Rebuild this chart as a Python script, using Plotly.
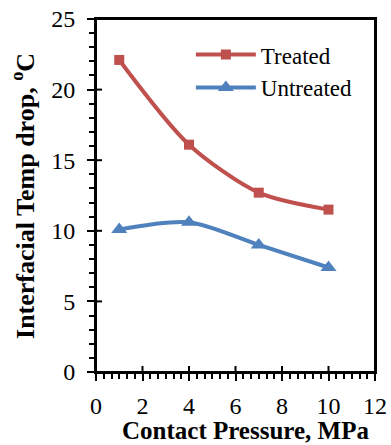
import plotly.graph_objects as go

# Contact pressure (MPa) and interfacial temperature drop (°C)
pressure = [1, 4, 7, 10]
treated = [22.1, 16.1, 12.7, 11.5]
untreated = [10.1, 10.6, 9.0, 7.4]

x_ticks = [0, 2, 4, 6, 8, 10, 12]
y_ticks = [0, 5, 10, 15, 20, 25]

RED = "#C0504D"
BLUE = "#4F81BD"
FONT = "Liberation Serif"

fig = go.Figure()
fig.add_trace(go.Scatter(
    x=pressure, y=treated, name="Treated", mode="lines+markers",
    line=dict(color=RED, width=4, shape="spline", smoothing=0.8),
    marker=dict(symbol="square", size=10, color=RED),
))
fig.add_trace(go.Scatter(
    x=pressure, y=untreated, name="Untreated", mode="lines+markers",
    line=dict(color=BLUE, width=4, shape="spline", smoothing=0.8),
    marker=dict(symbol="triangle-up", size=14, color=BLUE),
))

axis_common = dict(
    showgrid=False, zeroline=False, showline=True, linecolor="black",
    linewidth=2, mirror=True, ticks="outside", ticklen=7, tickwidth=2,
    tickcolor="black", tickfont=dict(family=FONT, size=24, color="black"),
    automargin=False,
)

fig.update_layout(
    width=391, height=445,
    margin=dict(l=96, r=16, t=19, b=73),
    paper_bgcolor="white", plot_bgcolor="white",
    font=dict(family=FONT, color="black"),
    xaxis=dict(
        **axis_common, range=[0, 12], tickvals=x_ticks,
        ticklabelstandoff=4,
        minor=dict(dtick=1 / 3, ticks="outside", ticklen=5, tickwidth=2,
                   tickcolor="black"),
    ),
    yaxis=dict(
        **axis_common, range=[0, 25], tickvals=y_ticks,
        ticklabelstandoff=7,
        minor=dict(dtick=1, ticks="outside", ticklen=5, tickwidth=2,
                   tickcolor="black"),
    ),
    legend=dict(x=0.34, y=0.96, xanchor="left", yanchor="top",
                bgcolor="rgba(0,0,0,0)", font=dict(family=FONT, size=23),
                itemwidth=60, tracegroupgap=0),
    showlegend=True,
)

# axis titles
fig.add_annotation(text="<b>Contact Pressure, MPa</b>", xref="paper",
                   yref="paper", x=0.535, y=-0.165, xanchor="center",
                   yanchor="middle", showarrow=False,
                   font=dict(family=FONT, size=25, color="black"))
fig.add_annotation(text="<b>Interfacial Temp drop, <sup>o</sup>C</b>",
                   xref="paper", yref="paper", x=-0.26, y=0.5,
                   xanchor="center", yanchor="middle", textangle=-90,
                   showarrow=False,
                   font=dict(family=FONT, size=26, color="black"))

# plot-area border
fig.add_shape(type="rect", xref="paper", yref="paper", x0=0, x1=1, y0=0,
              y1=1, line=dict(color="black", width=2), layer="above")

# inner halves of the major ticks, so they cross the axis lines
for v in x_ticks:
    fig.add_shape(type="line", xref="x", yref="paper", ysizemode="pixel",
                  yanchor=0, x0=v, x1=v, y0=0, y1=6,
                  line=dict(color="black", width=2))
for v in y_ticks:
    fig.add_shape(type="line", xref="paper", yref="y", xsizemode="pixel",
                  xanchor=0, y0=v, y1=v, x0=0, x1=6,
                  line=dict(color="black", width=2))

fig.write_html("out.html")
